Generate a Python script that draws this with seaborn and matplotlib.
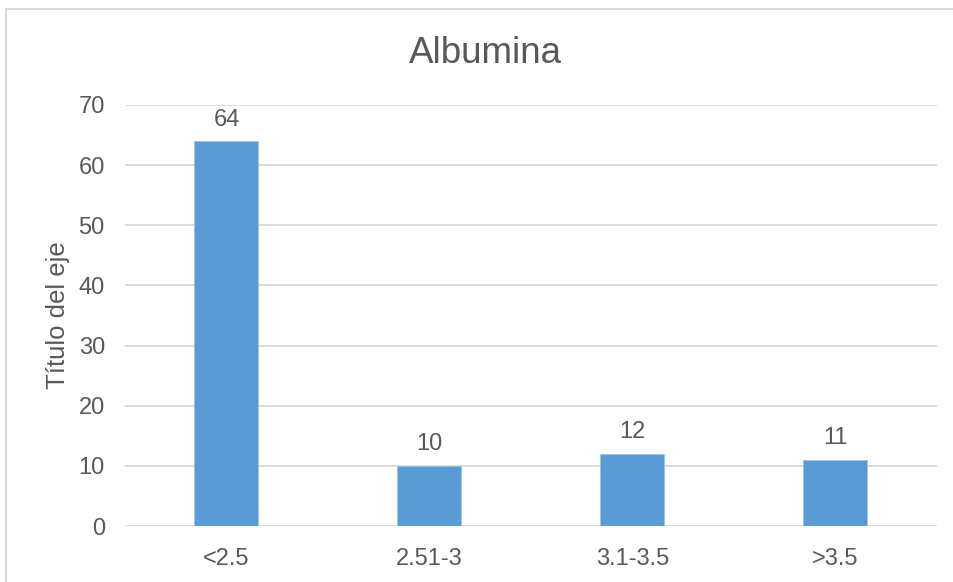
import matplotlib
matplotlib.use("Agg")
import matplotlib.pyplot as plt
import seaborn as sns
import pandas as pd
from matplotlib.patches import Rectangle

categories = ["<2.5", "2.51-3", "3.1-3.5", ">3.5"]
values = [64, 10, 12, 11]
y_ticks = [0, 10, 20, 30, 40, 50, 60, 70]

sns.set_theme(style="white")
plt.rcParams["font.family"] = ["Liberation Sans", "DejaVu Sans"]

TEXT = "#595959"
BAR = "#5B9BD5"
GRID = "#D9D9D9"

df = pd.DataFrame({"rango": categories, "n": values})

fig = plt.figure(figsize=(9.54, 5.82), dpi=100)
ax = fig.add_axes([0.131, 0.0962, 0.851, 0.7234])

sns.barplot(data=df, x="rango", y="n", color=BAR, width=0.315,
            saturation=1, ax=ax, order=categories,
            edgecolor="#9DC3E6", linewidth=0.6)

ax.set_ylim(0, 70)
ax.set_yticks(y_ticks)
ax.set_xlim(-0.5, len(categories) - 0.5)
ax.yaxis.grid(True, color=GRID, linewidth=1.3)
ax.set_axisbelow(True)
for s in ax.spines.values():
    s.set_visible(False)
ax.tick_params(axis="both", length=0, labelsize=17, colors=TEXT)
ax.tick_params(axis="y", pad=14.5)
ax.tick_params(axis="x", pad=16)
ax.set_xlabel("")
ax.set_ylabel("Título del eje", fontsize=18.5, color=TEXT, labelpad=6)

for i, v in enumerate(values):
    ax.annotate(f"{v}", (i, v), xytext=(0, 7.5), textcoords="offset points",
                ha="center", va="bottom", fontsize=17, color=TEXT)

fig.text(0.509, 0.908, "Albumina", ha="center", va="center",
         fontsize=26.5, color=TEXT)

fig.patches.append(Rectangle((6 / 954, -0.05), 1.2, 1 - 8.5 / 582 + 0.05,
                             transform=fig.transFigure, fill=False,
                             edgecolor="#D9D9D9", linewidth=1.5))

fig.savefig("out.png", dpi=100, facecolor="white")
